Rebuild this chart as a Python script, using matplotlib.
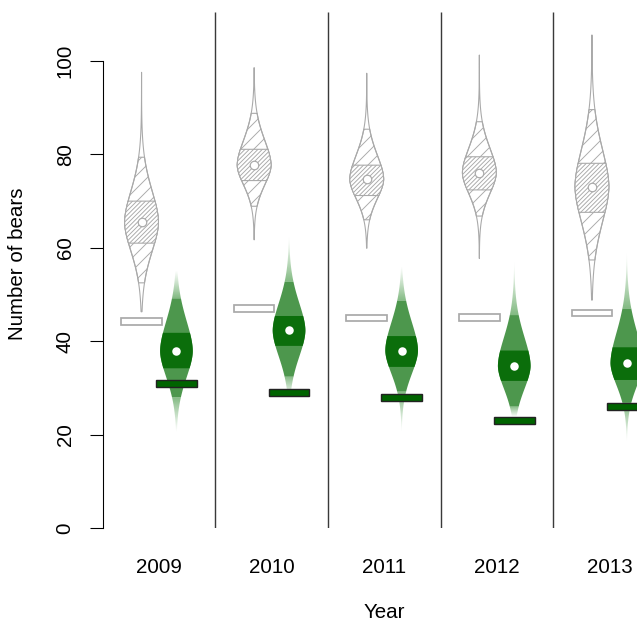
import numpy as np
import matplotlib.pyplot as plt
from matplotlib.patches import Polygon, Rectangle

DPI = 78

plt.rcParams['font.family'] = ['Liberation Sans', 'DejaVu Sans']
plt.rcParams['hatch.color'] = '#a9a9a9'
plt.rcParams['hatch.linewidth'] = 0.85

years = [2009, 2010, 2011, 2012, 2013]

# grey violins: posterior summaries (mean, 50% and 95% bands, extremes)
grey_mean = [65.5, 77.7, 74.7, 76.1, 73.1]
grey_q25 = [61.0, 74.4, 71.2, 72.4, 67.6]
grey_q75 = [70.0, 81.1, 77.7, 79.5, 78.1]
grey_q025 = [52.5, 68.9, 66.0, 66.8, 57.4]
grey_q975 = [79.4, 88.8, 85.4, 87.0, 89.6]
grey_min = [46.3, 61.7, 59.9, 57.7, 48.8]
grey_max = [97.6, 98.6, 97.4, 101.3, 105.6]
grey_count = [44.2, 47.0, 45.0, 45.1, 46.0]

# green violins
green_mean = [37.9, 42.3, 38.0, 34.7, 35.3]
green_q25 = [34.2, 39.0, 34.5, 31.5, 31.7]
green_q75 = [41.8, 45.4, 41.1, 38.0, 38.7]
green_q025 = [28.0, 32.4, 29.2, 26.0, 26.8]
green_q975 = [49.2, 52.7, 48.7, 45.6, 47.0]
green_min = [20.6, 28.0, 20.6, 23.8, 18.5]
green_max = [55.0, 62.5, 56.0, 57.0, 59.0]
green_count = [31.0, 29.0, 28.0, 23.0, 26.0]

GREY = '#a9a9a9'
DARK = '#0b6e0b'
MID = '#4d974d'
LIGHT = (0.35, 0.64, 0.35)
RECT_GREEN = '#006400'


def px(v):
    # pixels -> points at the output resolution
    return v * 72 / DPI


def halfwidth(y, c, s_lo, s_hi, half, p=1.8):
    s = np.where(y >= c, s_hi, s_lo)
    return half * np.exp(-0.5 * (np.abs(y - c) / s) ** p)


def band(x0, ya, yb, c, s_lo, s_hi, half, n=200):
    y = np.linspace(ya, yb, n)
    w = halfwidth(y, c, s_lo, s_hi, half)
    left = np.column_stack([x0 - w, y])
    right = np.column_stack([x0 + w, y])[::-1]
    return np.vstack([left, right])


def grey_violin(ax, x0, i, half=0.15, k=2.0):
    c = grey_mean[i]
    s_hi = (grey_q975[i] - c) / k
    s_lo = (c - grey_q025[i]) / k
    ax.add_patch(Polygon(band(x0, grey_min[i], grey_max[i], c, s_lo, s_hi, half),
                         closed=True, fill=False, edgecolor=GREY, lw=1, zorder=2))
    ax.add_patch(Polygon(band(x0, grey_q025[i], grey_q975[i], c, s_lo, s_hi, half),
                         closed=True, facecolor='none', edgecolor=GREY, lw=1,
                         hatch='//', zorder=2))
    ax.add_patch(Polygon(band(x0, grey_q25[i], grey_q75[i], c, s_lo, s_hi, half),
                         closed=True, facecolor='white', edgecolor=GREY, lw=1,
                         hatch='//////', zorder=3))
    ax.plot(x0, c, 'o', ms=px(8.5), mfc='white', mec=GREY, mew=1.1, zorder=4)


def green_violin(ax, x0, i, half=0.145, k=1.7):
    c = green_mean[i]
    s_hi = (green_q975[i] - c) / k
    s_lo = (c - green_q025[i]) / k
    # faded tails
    for ya, yb, tip_low in [(green_min[i], green_q025[i], True),
                            (green_q975[i], green_max[i], False)]:
        clip = Polygon(band(x0, ya, yb, c, s_lo, s_hi, half), closed=True,
                       facecolor='none', edgecolor='none')
        ax.add_patch(clip)
        t = np.linspace(0, 1, 100)
        alpha = 0.75 * t ** 1.1 if tip_low else 0.75 * (1 - t) ** 1.1
        grad = np.zeros((100, 1, 4))
        grad[:, 0, :3] = LIGHT
        grad[:, 0, 3] = alpha
        im = ax.imshow(grad, extent=[x0 - half, x0 + half, ya, yb], origin='lower',
                       aspect='auto', interpolation='bilinear', zorder=2)
        im.set_clip_path(clip)
    ax.add_patch(Polygon(band(x0, green_q025[i], green_q975[i], c, s_lo, s_hi, half),
                         closed=True, facecolor=MID, edgecolor='none', zorder=2))
    ax.add_patch(Polygon(band(x0, green_q25[i], green_q75[i], c, s_lo, s_hi, half),
                         closed=True, facecolor=DARK, edgecolor='none', zorder=3))
    ax.plot(x0, c, 'o', ms=px(8.5), mfc='white', mec='white', mew=0, zorder=4)


fig = plt.figure(figsize=(637 / DPI, 622 / DPI), dpi=DPI)
ax = fig.add_axes([102.7 / 637, 94 / 622, 563 / 637, 516 / 622])

xpos = np.arange(1, len(years) + 1)
off = 0.155
rw, rh = 0.36, 1.4
for i, x in enumerate(xpos):
    grey_violin(ax, x - off, i)
    green_violin(ax, x + off, i)
    ax.add_patch(Rectangle((x - off - rw / 2, grey_count[i] - rh / 2), rw, rh,
                           facecolor='white', edgecolor=GREY, lw=1.6, zorder=5))
    ax.add_patch(Rectangle((x + off - rw / 2, green_count[i] - rh / 2), rw, rh,
                           facecolor=RECT_GREEN, edgecolor='#222222', lw=1.3, zorder=5))

ax.vlines(xpos[:-1] + 0.5, 0, 110.5, color='#3a3a3a', lw=1.3, zorder=1)

ax.set_xlim(0.5, 5.5)
ax.set_ylim(0, 110.5)
for side in ['top', 'right', 'bottom']:
    ax.spines[side].set_visible(False)
ax.spines['left'].set_bounds(0, 100)
ax.spines['left'].set_linewidth(1.0)

fs = px(20.5)
ax.set_yticks(np.arange(0, 101, 20))
ax.set_yticklabels([str(v) for v in range(0, 101, 20)], rotation=90, va='center',
                   fontsize=fs)
ax.tick_params(axis='y', length=px(13), width=1.0, pad=px(15))
ax.set_xticks(xpos)
ax.set_xticklabels([str(y) for y in years], fontsize=fs)
ax.tick_params(axis='x', length=0, pad=px(30))

fig.text(18 / 637, 1 - 264 / 622, 'Number of bears', rotation=90, ha='center',
         va='center', fontsize=fs)
fig.text(384 / 637, 1 - 613 / 622, 'Year', ha='center', va='center', fontsize=fs)

fig.savefig('out.png', dpi=DPI)
